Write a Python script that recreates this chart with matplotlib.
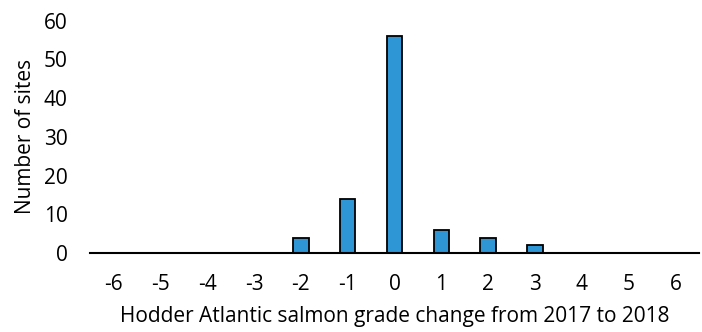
import matplotlib.pyplot as plt

plt.rcParams['font.family'] = ['Open Sans', 'DejaVu Sans']

# grade change categories and number of sites
grade_change = [-6, -5, -4, -3, -2, -1, 0, 1, 2, 3, 4, 5, 6]
sites = [0, 0, 0, 0, 4, 14, 56, 6, 4, 2, 0, 0, 0]
y_ticks = [0, 10, 20, 30, 40, 50, 60]

fig = plt.figure(figsize=(7.02, 3.32), dpi=100)
ax = fig.add_axes([90 / 702, 1 - 253 / 332, 609 / 702, (253 - 20.7) / 332])

ax.bar(grade_change, sites, width=0.33, color='#2E96D4', edgecolor='black', linewidth=1.3, zorder=2)

ax.set_xlim(-6.5, 6.5)
ax.set_ylim(0, 60)
ax.set_xticks(grade_change)
ax.set_xticklabels([str(g) for g in grade_change])
ax.set_yticks(y_ticks)

for side in ['top', 'right', 'left']:
    ax.spines[side].set_visible(False)
ax.spines['bottom'].set_linewidth(1.5)
ax.spines['bottom'].set_zorder(3)
ax.tick_params(axis='both', length=0, labelsize=15)
ax.tick_params(axis='x', pad=15)
ax.tick_params(axis='y', pad=16)

ax.set_xlabel('Hodder Atlantic salmon grade change from 2017 to 2018', fontsize=15, labelpad=8)
ax.set_ylabel('Number of sites', fontsize=15, labelpad=6)

plt.savefig('out.png', dpi=100)
